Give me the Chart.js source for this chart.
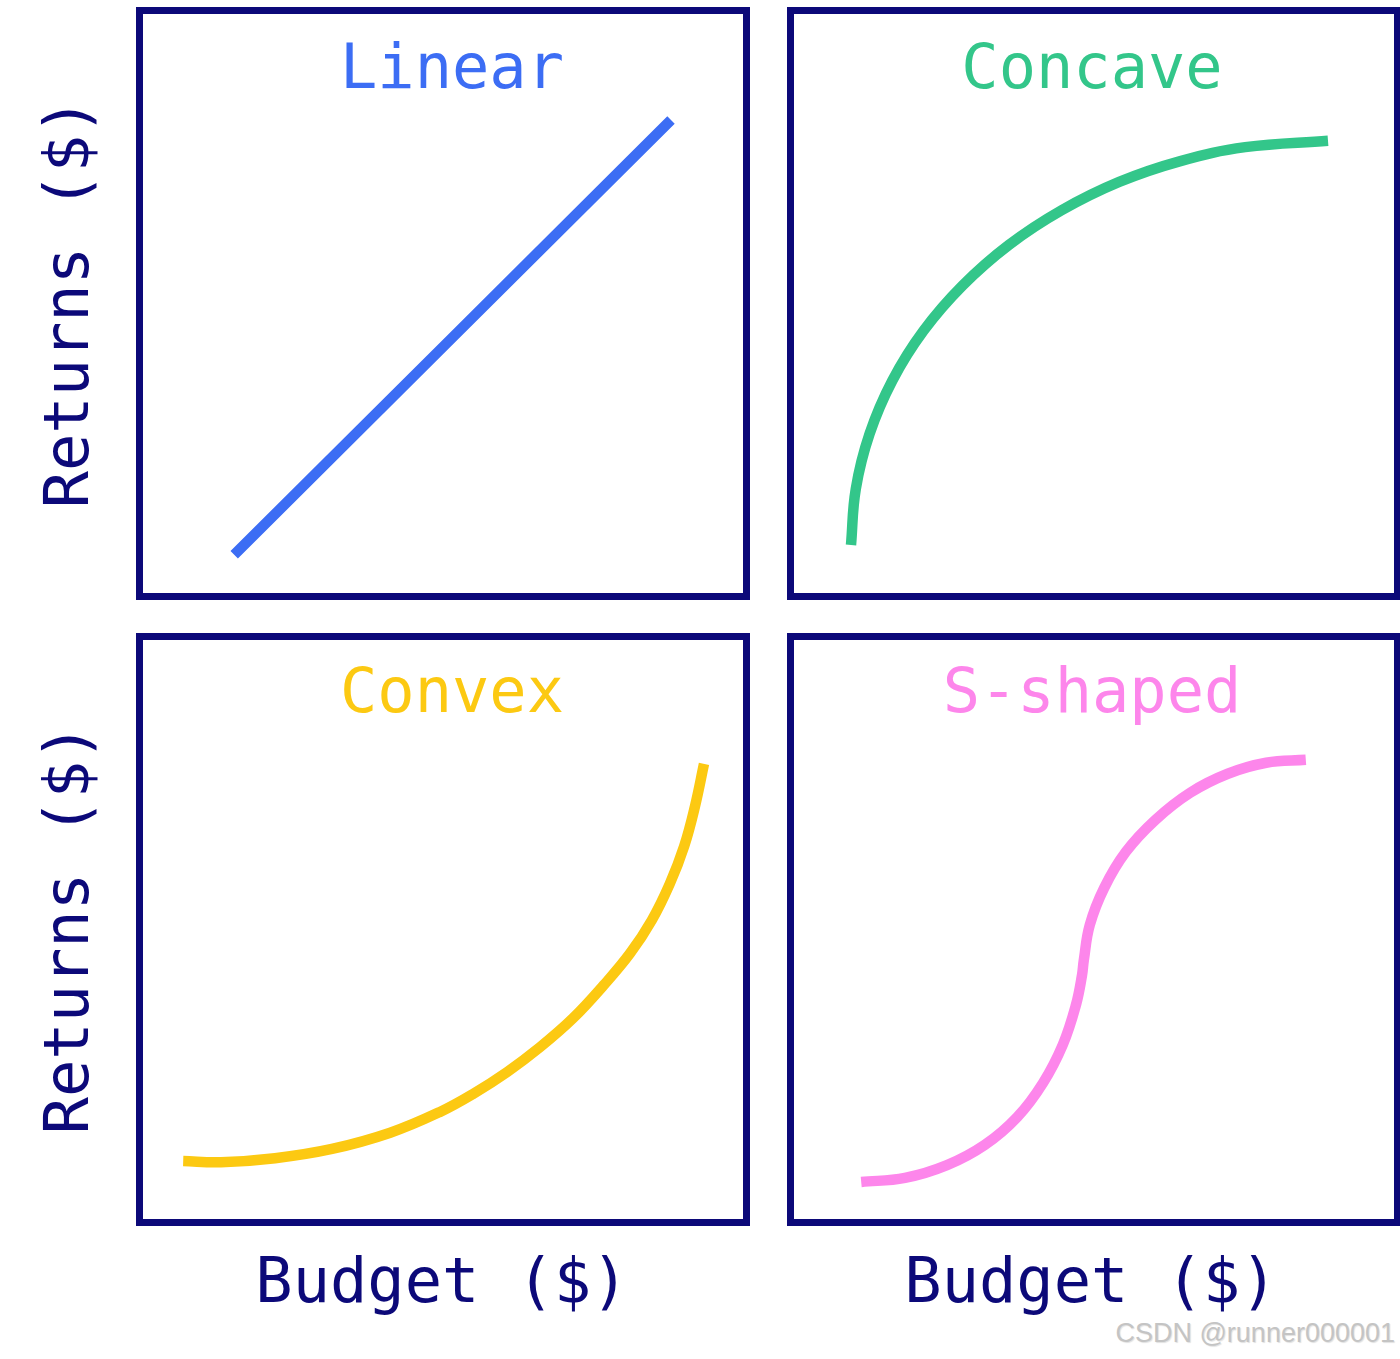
<!DOCTYPE html>
<html>
<head>
<meta charset="utf-8">
<script src="https://cdn.jsdelivr.net/npm/chart.js@4/dist/chart.umd.min.js"></script>
<style>
  html, body { margin: 0; padding: 0; background: #ffffff; }
  body { width: 1400px; height: 1359px; position: relative; overflow: hidden; }
  .panel { position: absolute; box-sizing: border-box; border: 7px solid #0c0979; background: #fff; }
  .panel canvas { display: block; }
  .lbl { position: absolute; font-family: "DejaVu Sans Mono", monospace; font-size: 62px; line-height: 62px; height: 62px; white-space: nowrap; text-align: center; }
  .rot { transform: rotate(-90deg); transform-origin: 50% 50%; }
  .wm { position: absolute; font-family: "Liberation Sans", Arial, sans-serif; font-size: 27px; line-height: 27px; color: #c4c4c4; text-shadow: 1px 1px 1px rgba(0,0,0,0.12); white-space: nowrap; }
</style>
</head>
<body>
<script>
// ---- data (budget on x, returns on y; both 0..100 units) ----
const panelTitles = ["Linear", "Concave", "Convex", "S-shaped"];
const xAxisLabel = "Budget ($)";
const yAxisLabel = "Returns ($)";

const linearX = [15.2, 88.0];
const linearY = [6.6, 81.7];

const concaveX = [9.5, 10.3, 12.6, 16.4, 21.6, 28.1, 35.8, 44.6, 54.2, 64.4, 75.2, 89.0];
const concaveY = [8.3, 18.0, 27.5, 36.7, 45.3, 53.1, 60.1, 66.1, 71.0, 74.6, 77.0, 78.1];

const convexX = [6.7, 13.0, 22.0, 31.5, 41.2, 49.5, 55.0, 60.7, 66.2, 71.7, 76.8, 81.2, 84.8, 87.8, 90.2, 92.0, 93.5];
const convexY = [10.0, 9.8, 10.5, 12.1, 14.9, 18.5, 21.6, 25.4, 29.7, 34.7, 40.4, 45.9, 51.6, 57.9, 64.4, 71.3, 78.6];

const sshapedX = [11.2, 18.5, 25.5, 31.8, 37.2, 41.5, 44.8, 47.0, 48.0, 48.3, 49.3, 51.7, 55.3, 60.2, 66.0, 72.3, 78.7, 85.3];
const sshapedY = [6.4, 7.1, 9.3, 12.8, 17.6, 23.5, 30.1, 37.0, 42.1, 44.7, 50.8, 57.2, 63.4, 68.9, 73.6, 76.9, 78.8, 79.3];

const seriesColors = ["#3c6df4", "#33c68a", "#fcc912", "#fd86eb"];

// ---- layout ----
const panels = [
  { left: 136, top: 7,   w: 614, h: 593, xs: linearX,  ys: linearY,  titleCx: 452,  titleBase: 88 },
  { left: 787, top: 7,   w: 614, h: 593, xs: concaveX, ys: concaveY, titleCx: 1092, titleBase: 88 },
  { left: 136, top: 633, w: 614, h: 593, xs: convexX,  ys: convexY,  titleCx: 452,  titleBase: 712 },
  { left: 787, top: 633, w: 614, h: 593, xs: sshapedX, ys: sshapedY, titleCx: 1092, titleBase: 712 }
];

const BASE_OFF = 52.5; // baseline offset from top of a 62px line box (DejaVu Sans Mono)

function addLabel(text, cx, baseline, color, rotated) {
  const d = document.createElement('div');
  d.className = 'lbl' + (rotated ? ' rot' : '');
  d.textContent = text;
  d.style.color = color;
  const w = 500;
  d.style.width = w + 'px';
  if (!rotated) {
    d.style.left = (cx - w / 2) + 'px';
    d.style.top = (baseline - BASE_OFF) + 'px';
  } else {
    const centerX = cx - (BASE_OFF - 31);
    d.style.left = (centerX - w / 2) + 'px';
    d.style.top = (baseline - 31) + 'px';
  }
  document.body.appendChild(d);
}

panels.forEach((p, i) => {
  const div = document.createElement('div');
  div.className = 'panel';
  div.style.left = p.left + 'px';
  div.style.top = p.top + 'px';
  div.style.width = p.w + 'px';
  div.style.height = p.h + 'px';
  const cv = document.createElement('canvas');
  const iw = p.w - 14, ih = p.h - 14;
  cv.width = iw; cv.height = ih;
  cv.style.width = iw + 'px'; cv.style.height = ih + 'px';
  div.appendChild(cv);
  document.body.appendChild(div);

  const pts = p.xs.map((x, k) => ({ x: x, y: p.ys[k] }));
  new Chart(cv.getContext('2d'), {
    type: 'line',
    data: {
      datasets: [{
        label: panelTitles[i],
        data: pts,
        borderColor: seriesColors[i],
        borderWidth: 10.5,
        borderCapStyle: 'butt',
        borderJoinStyle: 'round',
        tension: 0.4,
        pointRadius: 0,
        fill: false
      }]
    },
    options: {
      responsive: false,
      animation: false,
      devicePixelRatio: 1,
      layout: { padding: 0 },
      plugins: { legend: { display: false }, tooltip: { enabled: false }, title: { display: false } },
      scales: {
        x: { type: 'linear', min: 0, max: 100, display: false },
        y: { type: 'linear', min: 0, max: 100, display: false }
      }
    }
  });

  addLabel(panelTitles[i], p.titleCx, p.titleBase, seriesColors[i], false);
});

// axis labels
addLabel(xAxisLabel, 442, 1302, '#0c0979', false);
addLabel(xAxisLabel, 1091, 1302, '#0c0979', false);
addLabel(yAxisLabel, 88, 303, '#0c0979', true);
addLabel(yAxisLabel, 88, 929, '#0c0979', true);

// watermark
const wm = document.createElement('div');
wm.className = 'wm';
wm.textContent = 'CSDN @runner000001';
wm.style.right = '5px';
wm.style.top = '1320px';
document.body.appendChild(wm);
</script>
</body>
</html>
